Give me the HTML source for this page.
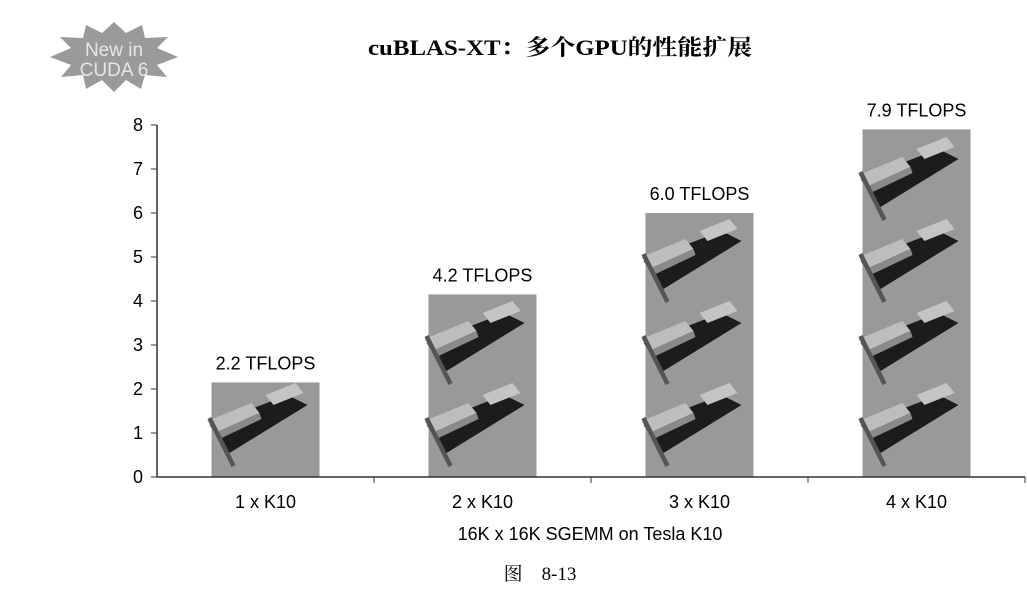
<!DOCTYPE html>
<html><head><meta charset="utf-8"><style>
body{margin:0;background:#fff;}
svg{display:block;font-family:"Liberation Sans","Noto Sans CJK SC",sans-serif;}
</style></head><body>
<svg id="c" width="1027" height="590">
<defs>
<g id="card">
<polygon points="-48,0 30,-30 50,-20 -28,28" fill="#1c1c1c"/>
<polygon points="-50,-4 -6,-22 2,-12 -42,8" fill="#bdbdbd"/>
<polygon points="8,-30 38,-42 46,-32 16,-20" fill="#c4c4c4"/>
<polygon points="-42,8 2,-12 4,-6 -38,14" fill="#8a8a8a"/>
<polygon points="-50,-6 -46,-8 -22,40 -26,42" fill="#555"/>
</g>
</defs>
<polygon fill="#9a9a9a" points="114,22 126,33 142,25 145,38 168,37 157,48 178,57 157,65 167,77 145,75 141,89 126,80 114,92 102,80 86,89 83,75 61,77 71,65 50,57 71,48 60,37 83,38 86,25 102,33"/>
<text x="114" y="56" text-anchor="middle" font-size="19" fill="#e6e6e6">New in</text>
<text x="114" y="76" text-anchor="middle" font-size="19" fill="#e6e6e6">CUDA 6</text>
<text x="560" y="55" text-anchor="middle" font-size="22" font-weight="bold" font-family="Liberation Serif,'Noto Serif CJK SC',serif" textLength="384" lengthAdjust="spacingAndGlyphs">cuBLAS-XT：多个GPU的性能扩展</text>
<g id="plot"></g>
<text x="590" y="540" text-anchor="middle" font-size="18">16K x 16K SGEMM on Tesla K10</text>
<text x="540" y="580" text-anchor="middle" font-size="19" font-family="Liberation Serif,'Noto Serif CJK SC',serif">图　8-13</text>
</svg>
<script>
const categories=["1 x K10","2 x K10","3 x K10","4 x K10"];
const values=[2.15,4.15,6.0,7.9];
const labels=["2.2 TFLOPS","4.2 TFLOPS","6.0 TFLOPS","7.9 TFLOPS"];
const cardCounts=[1,2,3,4];
const yTicks=[0,1,2,3,4,5,6,7,8];
const NS="http://www.w3.org/2000/svg";
const g=document.getElementById('plot');
const x0=157,x1=1025,yb=477,pu=44;
const bw=(x1-x0)/categories.length;
const y=v=>yb-v*pu;
const xc=i=>x0+bw*(i+0.5);
function mk(t,a,txt){const e=document.createElementNS(NS,t);for(const k in a)e.setAttribute(k,a[k]);if(txt!==undefined)e.textContent=txt;g.appendChild(e);return e;}
values.forEach((v,i)=>{
 const b=mk('rect',{x:xc(i)-54,y:y(v),width:108,height:yb-y(v),fill:'#999'});
 
 
 for(let k=0;k<cardCounts[i];k++){
  const u=document.createElementNS(NS,'use');
  u.setAttribute('href','#card');
  u.setAttribute('transform','translate('+(xc(i)-8)+','+(yb-52-k*82)+')');
  
  
  g.appendChild(u);
 }
 const l=mk('text',{x:xc(i),y:y(v)-13,'text-anchor':'middle','font-size':18},labels[i]);
 
 
 const c=mk('text',{x:xc(i),y:yb+31,'text-anchor':'middle','font-size':18},categories[i]);
 
 
});
const ax=mk('line',{x1:x0,y1:yb,x2:x1,y2:yb,stroke:'#333','stroke-width':1.5});


const ay=mk('line',{x1:x0,y1:yb,x2:x0,y2:y(8),stroke:'#333','stroke-width':1.5});


for(let i=1;i<=categories.length;i++){const t=mk('line',{x1:x0+bw*i,y1:yb,x2:x0+bw*i,y2:yb+6,stroke:'#333'});}
yTicks.forEach(v=>{
 const t=mk('line',{x1:x0-6,y1:y(v),x2:x0,y2:y(v),stroke:'#333'});
 
 
 const l=mk('text',{x:x0-14,y:y(v)+6,'text-anchor':'end','font-size':18},v);
 
 
});
</script>
</body></html>
